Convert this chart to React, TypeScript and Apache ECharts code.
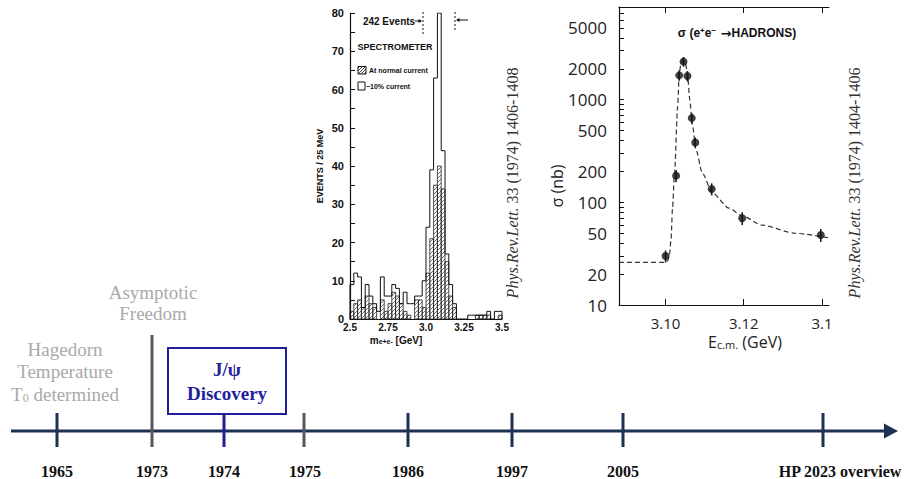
import React, { useEffect, useRef } from "react";
import * as echarts from "echarts";

// ---------- Histogram (Phys.Rev.Lett. 33 (1974) 1406) ----------
const massBinStart = 2.5;
const massBinWidth = 0.025;
// total events per 25 MeV bin (open outline)
const allEvents = [
  9, 12, 11, 3, 9, 6, 4, 2, 11, 6,
  6, 9, 8, 4, 7, 4, 4, 6, 6, 10,
  24, 39, 63, 242, 44, 17, 9, 4, 0, 0,
  0, 1, 1, 1, 1, 1, 2, 0, 2, 2,
];
// events at normal current (hatched)
const normalCurrentEvents = [
  2, 4, 5, 3, 6, 4, 3, 0, 5, 2,
  4, 7, 6, 4, 2, 1, 0, 5, 5, 3,
  12, 21, 35, 40, 34, 15, 6, 3, 0, 0,
  0, 0, 0, 1, 1, 1, 1, 0, 0, 1,
];
const histYMax = 80;
const histXTicks = [2.5, 2.75, 3.0, 3.25, 3.5];
const histXTickLabels = ["2.5", "2.75", "3.0", "3.25", "3.5"];

// ---------- Cross section (Phys.Rev.Lett. 33 (1974) 1404) ----------
const ecmPoints = [3.1, 3.1027, 3.1035, 3.1046, 3.1056, 3.1067, 3.1076, 3.1118, 3.1196, 3.1397];
const sigmaPoints = [30, 182, 1726, 2350, 1700, 662, 383, 135, 70, 48];
const sigmaErrors = [4, 25, 200, 250, 200, 80, 45, 18, 10, 7];
const fitEcm = [
  3.0881, 3.099, 3.1, 3.1006, 3.101, 3.1014, 3.1018, 3.1023, 3.1031, 3.1035,
  3.104, 3.1046, 3.1051, 3.1056, 3.1062, 3.1068, 3.1078, 3.1094, 3.112, 3.1162,
  3.1196, 3.1246, 3.1331, 3.1418,
];
const fitSigma = [
  26, 26, 26, 27, 31, 43, 90, 194, 861, 1820,
  2300, 2420, 2250, 1820, 1000, 593, 325, 193, 123, 88,
  74, 60, 50, 45,
];
const sigmaLabelValues = [10, 20, 50, 100, 200, 500, 1000, 2000, 5000];
const sigmaMin = 10;
const sigmaMax = 8000;
const ecmMin = 3.0881;
const ecmMax = 3.1418;
const ecmTicks = [3.1, 3.12, 3.14];
const ecmTickLabels = ["3.10", "3.12", "3.1"];

// ---------- Timeline ----------
const timelineLabels = ["1965", "1973", "1974", "1975", "1986", "1997", "2005", "HP 2023 overview"];

// layout (pixels) for the schematic timeline
const tlX = [57, 152, 224, 304, 408, 512, 623, 823];
const tlLabelX = [57, 152, 224, 305, 408, 512, 623, 840];
const tlTop = [413, 335, 414, 413, 413, 413, 413, 413];
const tlColor = ["#1e3152", "#55595e", "#1f1f9c", "#55595e", "#1e3152", "#1e3152", "#1e3152", "#1e3152"];

const NAVY = "#1e3152";
const BLUE = "#1f1f9c";
const GRAY = "#a9a9a9";

function hatchSegments(left: number, top: number, right: number, bottom: number, s: number) {
  const segs: any[] = [];
  const cMin = left + top;
  const cMax = right + bottom;
  for (let c = Math.ceil(cMin / s) * s; c <= cMax; c += s) {
    const xa = Math.max(left, c - bottom);
    const xb = Math.min(right, c - top);
    if (xb > xa) segs.push([xa, c - xa, xb, c - xb]);
  }
  return segs;
}

function text(x: number, y: number, t: string, style: any, extra: any = {}) {
  return {
    type: "text",
    x,
    y,
    z: 100,
    ...extra,
    style: { text: t, align: "center", verticalAlign: "middle", ...style },
  };
}

export default function App() {
  const ref = useRef<HTMLDivElement>(null);

  useEffect(() => {
    document.body.style.margin = "0";
    if (!ref.current) return;
    const chart = echarts.init(ref.current, undefined, { renderer: "svg" });

    const log = (v: number) => Math.log10(v);

    const outline: number[][] = [[massBinStart, 0]];
    allEvents.forEach((v, i) => outline.push([massBinStart + i * massBinWidth, Math.min(v, histYMax)]));
    const last = allEvents.length;
    outline.push([massBinStart + last * massBinWidth, Math.min(allEvents[last - 1], histYMax)]);
    outline.push([massBinStart + last * massBinWidth, 0]);

    const sigmaTickValues: number[] = [];
    for (let d = 10; d < sigmaMax; d *= 10) {
      for (let m = 1; m <= 9; m++) {
        const v = d * m;
        if (v <= sigmaMax) sigmaTickValues.push(log(v));
      }
    }

    const sansH = "Liberation Sans";
    const sansR = "Open Sans";
    const serif = "Liberation Serif";

    const graphic: any[] = [];

    // ---- histogram annotations
    const hs = { fill: "#111", fontFamily: sansH, fontWeight: "bold" };
    graphic.push(text(389, 21, "242 Events", { ...hs, fontSize: 10 }));
    graphic.push({ type: "line", shape: { x1: 415, y1: 21, x2: 421, y2: 21 }, style: { stroke: "#111", lineWidth: 1 } });
    graphic.push({ type: "polygon", shape: { points: [[422, 21], [418.5, 19], [418.5, 23]] }, style: { fill: "#111" } });
    graphic.push({ type: "line", shape: { x1: 423, y1: 12, x2: 423, y2: 34 }, style: { stroke: "#111", lineWidth: 1, lineDash: [2, 2] } });
    graphic.push({ type: "line", shape: { x1: 455, y1: 12, x2: 455, y2: 31 }, style: { stroke: "#111", lineWidth: 1, lineDash: [2, 2] } });
    graphic.push({ type: "line", shape: { x1: 457, y1: 20, x2: 468, y2: 20 }, style: { stroke: "#111", lineWidth: 1 } });
    graphic.push({ type: "polygon", shape: { points: [[456, 20], [459.5, 18], [459.5, 22]] }, style: { fill: "#111" } });
    graphic.push(text(395, 47, "SPECTROMETER", { ...hs, fontSize: 9 }));
    graphic.push({ type: "rect", shape: { x: 358, y: 66.5, width: 8, height: 7.5 }, style: { fill: "#fff", stroke: "#111", lineWidth: 1 } });
    hatchSegments(358, 66.5, 366, 74, 3).forEach((s) =>
      graphic.push({ type: "line", shape: { x1: s[0], y1: s[1], x2: s[2], y2: s[3] }, style: { stroke: "#111", lineWidth: 0.8 } })
    );
    graphic.push(text(369, 70.5, "At normal current", { ...hs, fontSize: 7, align: "left" }));
    graphic.push({ type: "rect", shape: { x: 358, y: 82, width: 7, height: 8 }, style: { fill: "#fff", stroke: "#111", lineWidth: 1 } });
    graphic.push(text(366, 86, "\u221210% current", { ...hs, fontSize: 7, align: "left" }));
    graphic.push(
      text(320, 166, "EVENTS / 25 MeV", { ...hs, fontSize: 9 }, { rotation: Math.PI / 2 })
    );
    graphic.push(
      text(396, 340, "{m|m}{s|e+e-}{n| [GeV]}", {
        ...hs,
        fontSize: 10,
        rich: {
          m: { fontFamily: sansH, fontWeight: "bold", fontSize: 10, fill: "#111" },
          s: { fontFamily: sansH, fontWeight: "bold", fontSize: 7, fill: "#111", verticalAlign: "bottom" },
          n: { fontFamily: sansH, fontWeight: "bold", fontSize: 10, fill: "#111" },
        },
      })
    );

    // ---- citations
    const citeRich = {
      i: { fontFamily: serif, fontStyle: "italic", fontSize: 16, fill: "#333" },
      r: { fontFamily: serif, fontSize: 16, fill: "#333" },
    };
    graphic.push(
      text(512, 183, "{i|Phys.Rev.Lett.}{r| 33 (1974) 1406-1408}", { rich: citeRich, fontSize: 16 }, { rotation: Math.PI / 2 })
    );
    graphic.push(
      text(854, 183, "{i|Phys.Rev.Lett.}{r| 33 (1974) 1404-1406}", { rich: citeRich, fontSize: 16 }, { rotation: Math.PI / 2 })
    );

    // ---- cross-section annotations
    graphic.push(
      text(737, 33, "{t|\u03c3 (e}{p|+}{t|e}{p|\u2212}{a| \u2192}{t|HADRONS)}", {
        fontSize: 12,
        rich: {
          t: { fontFamily: sansH, fontWeight: "bold", fontSize: 12, fill: "#111" },
          a: { fontFamily: "DejaVu Sans", fontWeight: "bold", fontSize: 13, fill: "#111" },
          p: { fontFamily: sansH, fontWeight: "bold", fontSize: 8, fill: "#111", verticalAlign: "top" },
        },
      })
    );
    graphic.push(
      text(557, 186, "\u03c3 (nb)", { fill: "#222", fontFamily: sansR, fontSize: 16 }, { rotation: Math.PI / 2 })
    );
    graphic.push(
      text(745, 342, "{e|E}{s|c.m.}{e| (GeV)}", {
        fontSize: 16,
        rich: {
          e: { fontFamily: sansR, fontSize: 16, fill: "#222" },
          s: { fontFamily: sansR, fontSize: 11, fill: "#222", verticalAlign: "bottom" },
        },
      })
    );

    // ---- timeline
    graphic.push({ type: "line", shape: { x1: 11, y1: 431, x2: 888, y2: 431 }, style: { stroke: NAVY, lineWidth: 3 } });
    graphic.push({ type: "polygon", shape: { points: [[884, 423.5], [898, 431], [884, 438.5]] }, style: { fill: NAVY } });
    timelineLabels.forEach((lab, i) => {
      graphic.push({
        type: "line",
        shape: { x1: tlX[i], y1: tlTop[i], x2: tlX[i], y2: 447 },
        style: { stroke: tlColor[i], lineWidth: 3 },
      });
      graphic.push(
        text(tlLabelX[i], 471, lab, { fill: "#111", fontFamily: serif, fontWeight: "bold", fontSize: 16 })
      );
    });
    graphic.push({ type: "rect", shape: { x: 168, y: 348, width: 118, height: 66 }, style: { fill: "#fff", stroke: BLUE, lineWidth: 2 } });
    graphic.push(text(227, 369, "J/\u03c8", { fill: BLUE, fontFamily: serif, fontWeight: "bold", fontSize: 19 }));
    graphic.push(text(227, 393, "Discovery", { fill: BLUE, fontFamily: serif, fontWeight: "bold", fontSize: 19 }));
    const gs = { fill: GRAY, fontFamily: serif, fontSize: 19 };
    graphic.push(text(153, 292, "Asymptotic", gs));
    graphic.push(text(153, 313, "Freedom", gs));
    graphic.push(text(65, 349, "Hagedorn", gs));
    graphic.push(text(65, 371, "Temperature", gs));
    graphic.push(
      text(65, 394, "{a|T}{b|0}{a| determined}", {
        fontSize: 19,
        rich: {
          a: { fontFamily: serif, fontSize: 19, fill: GRAY },
          b: { fontFamily: serif, fontSize: 12, fill: GRAY, verticalAlign: "bottom" },
        },
      })
    );

    const axisLine = { show: true, lineStyle: { color: "#111", width: 1.2 } };

    chart.setOption({
      animation: false,
      backgroundColor: "#ffffff",
      grid: [
        { left: 350, top: 13, width: 152, height: 306 },
        { left: 619, top: 7, width: 210, height: 298 },
      ],
      xAxis: [
        {
          type: "value",
          gridIndex: 0,
          min: massBinStart,
          max: massBinStart + allEvents.length * massBinWidth,
          axisLine,
          axisTick: { show: false },
          splitLine: { show: false },
          axisLabel: {
            customValues: histXTicks,
            formatter: (v: number) => histXTickLabels[histXTicks.findIndex((t) => Math.abs(t - v) < 1e-6)] ?? String(v),
            color: "#111",
            fontSize: 10,
            fontWeight: "bold",
            fontFamily: sansH,
            margin: 3,
          },
        },
        {
          type: "value",
          gridIndex: 1,
          min: ecmMin,
          max: ecmMax,
          axisLine,
          axisTick: { show: true, inside: true, length: 6, customValues: ecmTicks, lineStyle: { color: "#111" } },
          splitLine: { show: false },
          axisLabel: {
            customValues: ecmTicks,
            formatter: (v: number) => ecmTickLabels[ecmTicks.findIndex((t) => Math.abs(t - v) < 1e-6)] ?? String(v),
            color: "#222",
            fontSize: 15,
            fontFamily: sansR,
            margin: 10,
          },
        },
        {
          type: "value",
          gridIndex: 1,
          position: "top",
          min: ecmMin,
          max: ecmMax,
          axisLine,
          axisTick: { show: true, inside: true, length: 6, customValues: ecmTicks, lineStyle: { color: "#111" } },
          splitLine: { show: false },
          axisLabel: { show: false },
        },
      ],
      yAxis: [
        {
          type: "value",
          gridIndex: 0,
          min: 0,
          max: histYMax,
          interval: 10,
          axisLine,
          axisTick: { show: true, inside: true, length: 5, lineStyle: { color: "#111" } },
          minorTick: { show: true, splitNumber: 2, length: 5, lineStyle: { color: "#111" } },
          splitLine: { show: false },
          minorSplitLine: { show: false },
          axisLabel: { color: "#111", fontSize: 11, fontWeight: "bold", fontFamily: sansH, margin: 6 },
        },
        {
          type: "value",
          gridIndex: 1,
          min: log(sigmaMin),
          max: log(sigmaMax),
          axisLine,
          axisTick: { show: true, inside: true, length: 5, customValues: sigmaTickValues, lineStyle: { color: "#111" } },
          splitLine: { show: false },
          axisLabel: {
            customValues: sigmaLabelValues.map(log),
            formatter: (v: number) => String(Math.round(Math.pow(10, v))),
            color: "#222",
            fontSize: 17,
            fontFamily: sansR,
            margin: 12,
          },
        },
      ],
      series: [
        {
          type: "custom",
          xAxisIndex: 0,
          yAxisIndex: 0,
          data: normalCurrentEvents.map((v, i) => [massBinStart + i * massBinWidth, v]),
          renderItem: (_p: any, api: any) => {
            const x0 = api.value(0);
            const v = api.value(1);
            if (!(v > 0)) return { type: "group", children: [] };
            const p0 = api.coord([x0, 0]);
            const p1 = api.coord([x0 + massBinWidth, Math.min(v, histYMax)]);
            const left = p0[0], right = p1[0], bottom = p0[1], top = p1[1];
            const children: any[] = [
              {
                type: "rect",
                shape: { x: left, y: top, width: right - left, height: bottom - top },
                style: { fill: "none", stroke: "#222", lineWidth: 0.8 },
              },
            ];
            hatchSegments(left, top, right, bottom, 4).forEach((s) =>
              children.push({
                type: "line",
                shape: { x1: s[0], y1: s[1], x2: s[2], y2: s[3] },
                style: { stroke: "#333", lineWidth: 0.7 },
              })
            );
            return { type: "group", children };
          },
        },
        {
          type: "line",
          xAxisIndex: 0,
          yAxisIndex: 0,
          step: "end",
          symbol: "none",
          data: outline,
          lineStyle: { color: "#111", width: 1 },
          z: 3,
        },
        {
          type: "line",
          xAxisIndex: 1,
          yAxisIndex: 1,
          symbol: "none",
          smooth: 0.25,
          smoothMonotone: "x",
          data: fitEcm.map((e, i) => [e, log(fitSigma[i])]),
          lineStyle: { color: "#333", width: 1.2, type: [5, 3] },
        },
        {
          type: "custom",
          xAxisIndex: 1,
          yAxisIndex: 1,
          data: ecmPoints.map((e, i) => [e, sigmaPoints[i], sigmaErrors[i]]),
          renderItem: (_p: any, api: any) => {
            const e = api.value(0);
            const s = api.value(1);
            const err = api.value(2);
            const hi = api.coord([e, log(s + err)]);
            const lo = api.coord([e, log(s - err)]);
            return {
              type: "line",
              shape: { x1: hi[0], y1: hi[1], x2: lo[0], y2: lo[1] },
              style: { stroke: "#111", lineWidth: 1.5 },
            };
          },
        },
        {
          type: "scatter",
          xAxisIndex: 1,
          yAxisIndex: 1,
          symbol: "circle",
          symbolSize: 8,
          data: ecmPoints.map((e, i) => [e, log(sigmaPoints[i])]),
          itemStyle: { color: "#111" },
          z: 5,
        },
      ],
      graphic,
    });

    return () => chart.dispose();
  }, []);

  return <div ref={ref} style={{ width: 909, height: 479 }} />;
}
